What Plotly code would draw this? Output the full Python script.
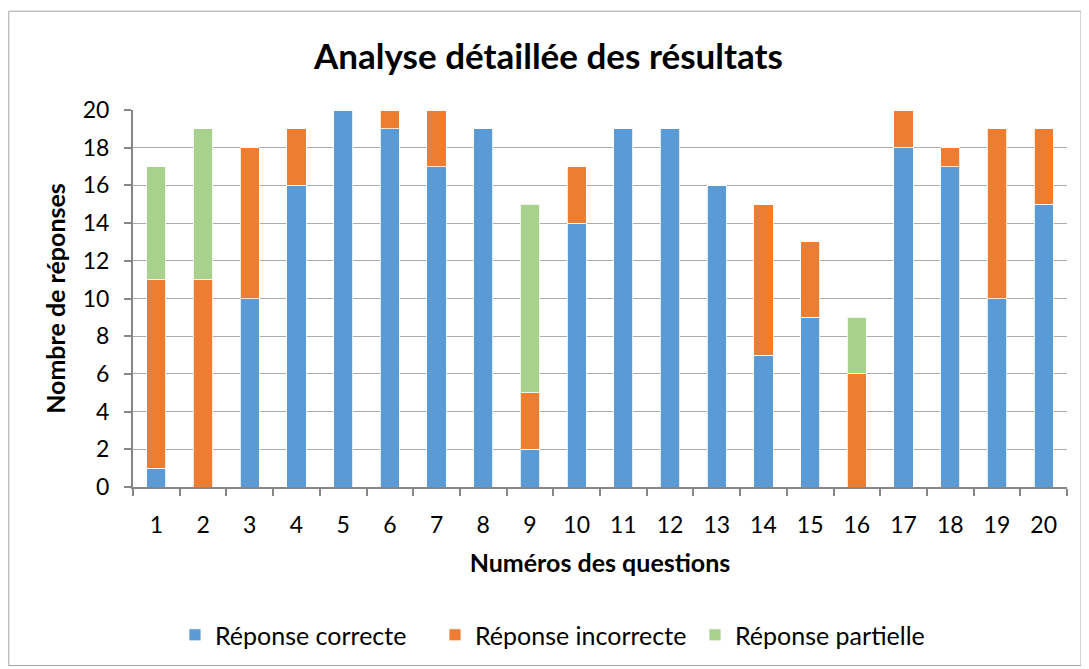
import plotly.graph_objects as go

questions = [str(i) for i in range(1, 21)]
correct = [1, 0, 10, 16, 20, 19, 17, 19, 2, 14, 19, 19, 16, 7, 9, 0, 18, 17, 10, 15]
incorrect = [10, 11, 8, 3, 0, 1, 3, 0, 3, 3, 0, 0, 0, 8, 4, 6, 2, 1, 9, 4]
partial = [6, 8, 0, 0, 0, 0, 0, 0, 10, 0, 0, 0, 0, 0, 0, 3, 0, 0, 0, 0]

FONT = "Lato"
fig = go.Figure()
for name, vals, col in [
    ("Réponse correcte", correct, "#5B9BD5"),
    ("Réponse incorrecte", incorrect, "#ED7D31"),
    ("Réponse partielle", partial, "#A9D18E"),
]:
    fig.add_trace(go.Bar(x=questions, y=vals, name=name, marker_color=col,
                         marker_line=dict(color="white", width=0.8)))

fig.update_layout(
    barmode="stack", bargap=0.59,
    width=1081, height=661,
    paper_bgcolor="white", plot_bgcolor="white",
    margin=dict(l=125, r=22, t=102, b=181),
    font=dict(family=FONT, color="black", size=23),
    title=dict(text="<b>Analyse détaillée des résultats</b>", x=0.5, xanchor="center",
               y=0.926, yanchor="middle", font=dict(size=35, family=FONT)),
    legend=dict(orientation="h", x=0.4625, xanchor="center", y=-0.389, yanchor="middle",
                font=dict(size=25), traceorder="normal", itemwidth=30,
                entrywidth=215, entrywidthmode="pixels"),
    showlegend=True,
)
fig.update_xaxes(type="category", tickson="boundaries", ticks="outside", ticklen=7,
                 tickcolor="#868686", tickwidth=2, showline=True, linecolor="#868686",
                 linewidth=2, showgrid=False, ticklabelstandoff=16,
                 title=dict(text="<b>Numéros des questions</b>", font=dict(size=25), standoff=18),
                 tickfont=dict(size=23))
fig.update_yaxes(range=[0, 20], dtick=2, ticks="outside", ticklen=7, tickcolor="#868686",
                 tickwidth=2, showline=True, linecolor="#868686", linewidth=2,
                 showgrid=True, gridcolor="#ABABAB", gridwidth=1, zeroline=False,
                 ticklabelstandoff=10,
                 title=dict(text="<b>Nombre de réponses</b>", font=dict(size=25), standoff=10),
                 tickfont=dict(size=23))
fig.add_shape(type="rect", xref="paper", yref="paper", x0=-0.133, x1=1.015, y0=-0.4735, y1=1.262,
              line=dict(color="#A6A6A6", width=1), fillcolor="rgba(0,0,0,0)", layer="below")
fig.write_html("out.html")
